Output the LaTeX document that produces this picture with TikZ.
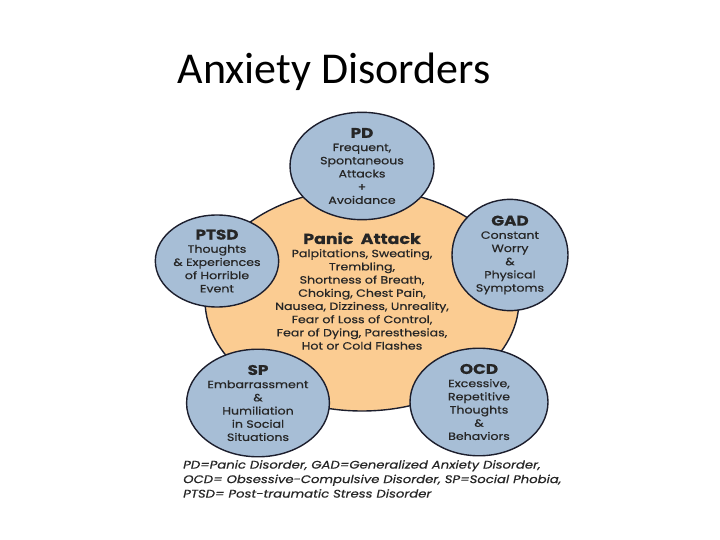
\documentclass[tikz,border=0pt]{standalone}
\usepackage{fontspec}
\setmainfont[FakeStretch=1.2,FakeBold=0.6]{Poppins}
\newfontfamily\titrefont{Carlito}
\usetikzlibrary{shapes.geometric}
\usetikzlibrary{positioning}

\definecolor{orangepale}{RGB}{251,204,146}
\definecolor{bleugris}{RGB}{167,190,214}
\definecolor{bord}{RGB}{28,30,45}

\tikzset{
  trouble/.style={ellipse,draw=bord,line width=1.4pt,fill=bleugris,inner sep=0pt,
    align=center,text=black!85,font=\fontsize{10.5}{13.2}\selectfont}
}
\newcommand{\sigle}[1]{{\fontsize{14}{15}\selectfont\bfseries #1}}

\begin{document}
\begin{tikzpicture}[x=1pt,y=-1pt]
\useasboundingbox[fill=white] (0,0) rectangle (720,540);
% titre
\node[font=\titrefont\fontsize{44}{48}\selectfont] (titre) at (334,72) {Anxiety Disorders};
% cercle central
\node[ellipse,draw=bord,line width=1.4pt,fill=orangepale,minimum width=314pt,minimum height=222pt,
  inner sep=0pt] (panique) at (362,300) {};
\node[align=center,text=black!85,font=\fontsize{10.5}{13.2}\selectfont] (symptomes) at (362,291)
  {{\fontsize{14.5}{16}\selectfont\bfseries Panic\ \ Attack}\\
   Palpitations, Sweating,\\ Trembling,\\ Shortness of Breath,\\ Choking, Chest Pain,\\
   Nausea, Dizziness, Unreality,\\ Fear of Loss of Control,\\ Fear of Dying, Paresthesias,\\
   Hot or Cold Flashes};
% ellipses
\node[trouble,minimum width=144pt,minimum height=98pt] (pd) at (362,166)
  {\sigle{PD}\\ Frequent,\\ Spontaneous\\ Attacks\\ +\\ Avoidance};
\node[trouble,minimum width=120pt,minimum height=92pt] (ptsd) at (217,261)
  {\sigle{PTSD}\\ Thoughts\\ \& Experiences\\ of Horrible\\ Event};
\node[trouble,minimum width=116pt,minimum height=96pt] (gad) at (510,255)
  {\sigle{GAD}\\ Constant\\ Worry\\ \&\\ Physical\\ Symptoms};
\node[trouble,minimum width=130pt,minimum height=96pt] (sp) at (258,403)
  {\sigle{SP}\\ Embarrassment\\ \&\\ Humiliation\\ in Social\\ Situations};
\node[trouble,minimum width=138pt,minimum height=94pt] (ocd) at (479,402)
  {\sigle{OCD}\\ Excessive,\\ Repetitive\\ Thoughts\\ \&\\ Behaviors};
% legende
\node[anchor=north west,align=left,inner sep=0pt,text=black!85,
  font=\fontsize{11}{14.5}\selectfont\itshape] (legende) at (183,460)
  {PD=Panic Disorder, GAD=Generalized Anxiety Disorder,\\
   OCD= Obsessive-Compulsive Disorder, SP=Social Phobia,\\
   PTSD= Post-traumatic Stress Disorder};
\end{tikzpicture}
\end{document}
